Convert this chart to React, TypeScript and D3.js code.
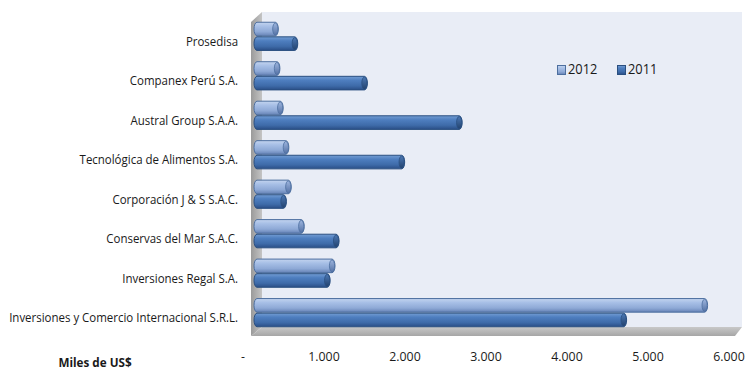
import React from "react";
import * as d3 from "d3";

const categories = [
  "Prosedisa",
  "Companex Perú S.A.",
  "Austral Group S.A.A.",
  "Tecnológica de Alimentos S.A.",
  "Corporación J & S S.A.C.",
  "Conservas del Mar S.A.C.",
  "Inversiones Regal S.A.",
  "Inversiones y Comercio Internacional S.R.L.",
];
const values2012 = [300, 320, 360, 430, 460, 620, 1000, 5600];
const values2011 = [540, 1400, 2570, 1860, 400, 1050, 940, 4600];
const tickValues = [0, 1000, 2000, 3000, 4000, 5000, 6000];
const tickLabels = ["-", "1.000", "2.000", "3.000", "4.000", "5.000", "6.000"];
const seriesNames = ["2012", "2011"];

const FONT = "'Open Sans', 'Noto Sans', sans-serif";

export default function App() {
  const W = 747, H = 375;
  const x = d3.scaleLinear().domain([0, 6000]).range([254, 740]);
  const y = d3.scaleBand<string>().domain(categories).range([17, 332]).paddingInner(0.26).paddingOuter(0.12);
  const sub = d3.scaleBand<string>().domain(seriesNames).range([0, y.bandwidth()]);
  const dx = -11, dy = 6; // front-plane offset
  const wallL = 262, wallR = 742, wallT = 12, wallB = 327;
  const SX = 0.85;

  const series = [
    { name: "2012", vals: values2012, grad: "g12", cap: "c12", stroke: "#4d6f9f" },
    { name: "2011", vals: values2011, grad: "g11", cap: "c11", stroke: "#2a4f80" },
  ];

  return (
    <svg width={W} height={H} style={{ position: "absolute", left: 0, top: 0 }}>
      <defs>
        <linearGradient id="g12" x1="0" y1="0" x2="0" y2="1">
          <stop offset="0" stopColor="#c3d4ef" />
          <stop offset="0.3" stopColor="#a7bfe6" />
          <stop offset="0.7" stopColor="#8ea9d6" />
          <stop offset="1" stopColor="#6582b5" />
        </linearGradient>
        <linearGradient id="g11" x1="0" y1="0" x2="0" y2="1">
          <stop offset="0" stopColor="#739dd3" />
          <stop offset="0.3" stopColor="#4e7ebf" />
          <stop offset="0.7" stopColor="#3e6ba9" />
          <stop offset="1" stopColor="#2a4e86" />
        </linearGradient>
        <linearGradient id="c12" x1="0" y1="0" x2="0" y2="1">
          <stop offset="0" stopColor="#9db5de" />
          <stop offset="1" stopColor="#5572a5" />
        </linearGradient>
        <linearGradient id="c11" x1="0" y1="0" x2="0" y2="1">
          <stop offset="0" stopColor="#4c78b4" />
          <stop offset="1" stopColor="#23436f" />
        </linearGradient>
        <linearGradient id="side" x1="0" y1="0" x2="1" y2="0">
          <stop offset="0" stopColor="#9a9a9a" />
          <stop offset="1" stopColor="#c4c4c4" />
        </linearGradient>
        <linearGradient id="floor" x1="0" y1="0" x2="0" y2="1">
          <stop offset="0" stopColor="#c8c8c8" />
          <stop offset="1" stopColor="#a6a6a6" />
        </linearGradient>
      </defs>
      <rect x={0} y={0} width={W} height={H} fill="#ffffff" />
      {/* back wall */}
      <rect x={wallL} y={wallT} width={wallR - wallL} height={wallB - wallT} fill="#e9edf6" />
      {/* side wall */}
      <polygon points={`${wallL + dx},${wallT + 10} ${wallL},${wallT} ${wallL},${wallB} ${wallL + dx},${wallB + 9}`} fill="url(#side)" />
      {/* floor */}
      <polygon points={`${wallL + dx},${wallB + 9} ${wallL},${wallB} ${wallR},${wallB} ${wallR - 7},${wallB + 9}`} fill="url(#floor)" />
      {/* bars */}
      {series.map((s) =>
        categories.map((c, i) => {
          const y0 = (y(c) ?? 0) + (sub(s.name) ?? 0);
          const h = sub.bandwidth();
          const x0 = x(0);
          const w = x(s.vals[i]) - x0;
          return (
            <g key={s.name + c}>
              <rect x={x0} y={y0 + 0.5} width={w} height={h - 1} rx={3} ry={h / 2 - 0.5}
                fill={`url(#${s.grad})`} stroke={s.stroke} strokeWidth={1} />
              <ellipse cx={x0 + w - 3} cy={y0 + h / 2} rx={2.6} ry={h / 2 - 1.2} fill={`url(#${s.cap})`} stroke={s.stroke} strokeWidth={0.8} />
            </g>
          );
        })
      )}
      {/* category labels */}
      {categories.map((c) => (
        <text key={c} transform={`translate(238,${(y(c) ?? 0) + y.bandwidth() / 2 + dy}) scale(${SX},1)`}
          textAnchor="end" dominantBaseline="middle"
          fontFamily={FONT} fontSize={13.5} fill="#1a1a1a">{c}</text>
      ))}
      {/* x tick labels */}
      {tickValues.map((v, i) => (
        <text key={v} transform={`translate(${x(v) + dx},358) scale(0.95,1)`} textAnchor="middle" dominantBaseline="middle"
          fontFamily={FONT} fontSize={13} fill="#1a1a1a">{tickLabels[i]}</text>
      ))}
      <text transform={`translate(95,364) scale(0.9,1)`} textAnchor="middle" dominantBaseline="middle" fontFamily={FONT} fontSize={13}
        fontWeight="bold" fill="#1a1a1a">Miles de US$</text>
      {/* legend */}
      {series.map((s, i) => (
        <g key={s.name} transform={`translate(${557 + i * 60},65)`}>
          <rect x={0.5} y={0.5} width={8} height={9} fill={`url(#${s.grad})`} stroke={s.stroke} strokeWidth={1} />
          <text transform="translate(11,5) scale(0.92,1)" dominantBaseline="middle" fontFamily={FONT} fontSize={14} fill="#1a1a1a">{s.name}</text>
        </g>
      ))}
    </svg>
  );
}
